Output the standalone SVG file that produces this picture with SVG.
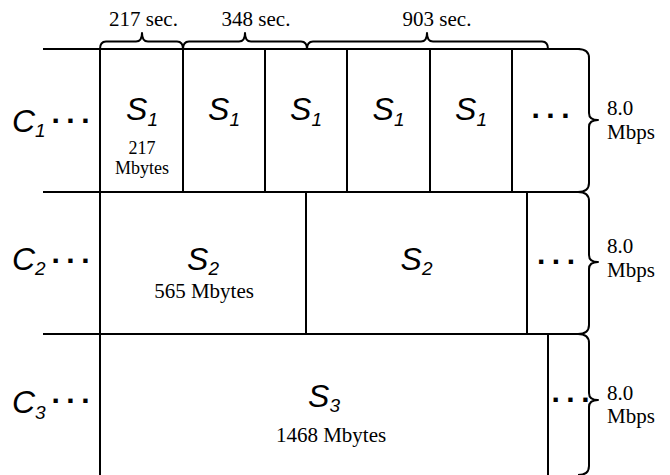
<svg xmlns="http://www.w3.org/2000/svg" width="670" height="475" viewBox="0 0 670 475">
<style>
.ln{stroke:#000;stroke-width:2;fill:none}
.br{stroke:#000;stroke-width:2;fill:none;stroke-linejoin:round}
.tm{font-family:"Liberation Serif","Times New Roman",serif;font-size:21px;fill:#000}
.sm{font-family:"Liberation Serif","Times New Roman",serif;font-size:18px;fill:#000}
.it{font-family:"Liberation Sans",Arial,sans-serif;font-style:italic;font-size:32px;fill:#000}
.sub{font-size:19px}
.dt{font-family:"Liberation Sans",Arial,sans-serif;font-weight:bold;font-size:30px;letter-spacing:6.5px;fill:#000}
</style>
<rect width="670" height="475" fill="#fff"/>
<g id="connectors">
  <path class="ln" d="M43 49H580M43 192H580M43 334H580"/>
  <path class="ln" d="M100 49V476M183 49V192M265 49V192M347 49V192M430 49V192M512 49V192M306 192V334M527 192V334M548 334V476"/>
  <path class="br" d="M100 49Q100 41.5 106 41.5L136 41.5Q142 41.5 142 33Q142 41.5 148 41.5L177 41.5Q183 41.5 183 49"/>
  <path class="br" d="M183 49Q183 41.5 189 41.5L239 41.5Q245 41.5 245 33Q245 41.5 251 41.5L301 41.5Q307 41.5 307 49"/>
  <path class="br" d="M307 49Q307 41.5 313 41.5L421 41.5Q427 41.5 427 33Q427 41.5 433 41.5L542 41.5Q548 41.5 548 49"/>
  <path class="br" d="M578 49Q589 49 589 58L589 113Q589 120 598 120Q589 120 589 127L589 183Q589 192 578 192"/>
  <path class="br" d="M578 192Q589 192 589 201L589 255Q589 262 598 262Q589 262 589 269L589 325Q589 334 578 334"/>
  <path class="br" d="M578 334Q589 334 589 343L589 393Q589 400 598 400Q589 400 589 407L589 466Q589 475 578 475"/>
</g>
<g id="time-labels">
  <text class="tm" x="143.5" y="26" text-anchor="middle">217 sec.</text>
  <text class="tm" x="256" y="26" text-anchor="middle">348 sec.</text>
  <text class="tm" x="437" y="26" text-anchor="middle">903 sec.</text>
</g>
<g id="row1">
  <text class="it" x="12" y="132">C<tspan class="sub" dy="5">1</tspan></text>
  <text class="dt" x="51.5" y="123">...</text>
  <text class="it" x="142" y="120" text-anchor="middle">S<tspan class="sub" dy="6">1</tspan></text>
  <text class="sm" x="142" y="154" text-anchor="middle">217</text>
  <text class="sm" x="142" y="174" text-anchor="middle">Mbytes</text>
  <text class="it" x="224" y="120" text-anchor="middle">S<tspan class="sub" dy="6">1</tspan></text>
  <text class="it" x="306" y="120" text-anchor="middle">S<tspan class="sub" dy="6">1</tspan></text>
  <text class="it" x="388.5" y="120" text-anchor="middle">S<tspan class="sub" dy="6">1</tspan></text>
  <text class="it" x="471" y="120" text-anchor="middle">S<tspan class="sub" dy="6">1</tspan></text>
  <text class="dt" x="531.5" y="118">...</text>
  <text class="tm" x="607" y="115">8.0</text>
  <text class="tm" x="607" y="139">Mbps</text>
</g>
<g id="row2">
  <text class="it" x="12" y="270">C<tspan class="sub" dy="5">2</tspan></text>
  <text class="dt" x="51.5" y="263">...</text>
  <text class="it" x="203" y="270" text-anchor="middle">S<tspan class="sub" dy="5">2</tspan></text>
  <text class="tm" x="204" y="298" text-anchor="middle">565 Mbytes</text>
  <text class="it" x="416.5" y="270" text-anchor="middle">S<tspan class="sub" dy="5">2</tspan></text>
  <text class="dt" x="537" y="264">...</text>
  <text class="tm" x="607" y="253">8.0</text>
  <text class="tm" x="607" y="277">Mbps</text>
</g>
<g id="row3">
  <text class="it" x="12" y="413">C<tspan class="sub" dy="6">3</tspan></text>
  <text class="dt" x="51.5" y="403">...</text>
  <text class="it" x="324" y="407" text-anchor="middle">S<tspan class="sub" dy="5">3</tspan></text>
  <text class="tm" x="331" y="442" text-anchor="middle">1468 Mbytes</text>
  <text class="dt" x="551.5" y="402" letter-spacing="4.5">...</text>
  <text class="tm" x="607" y="400">8.0</text>
  <text class="tm" x="607" y="423">Mbps</text>
</g>
</svg>
